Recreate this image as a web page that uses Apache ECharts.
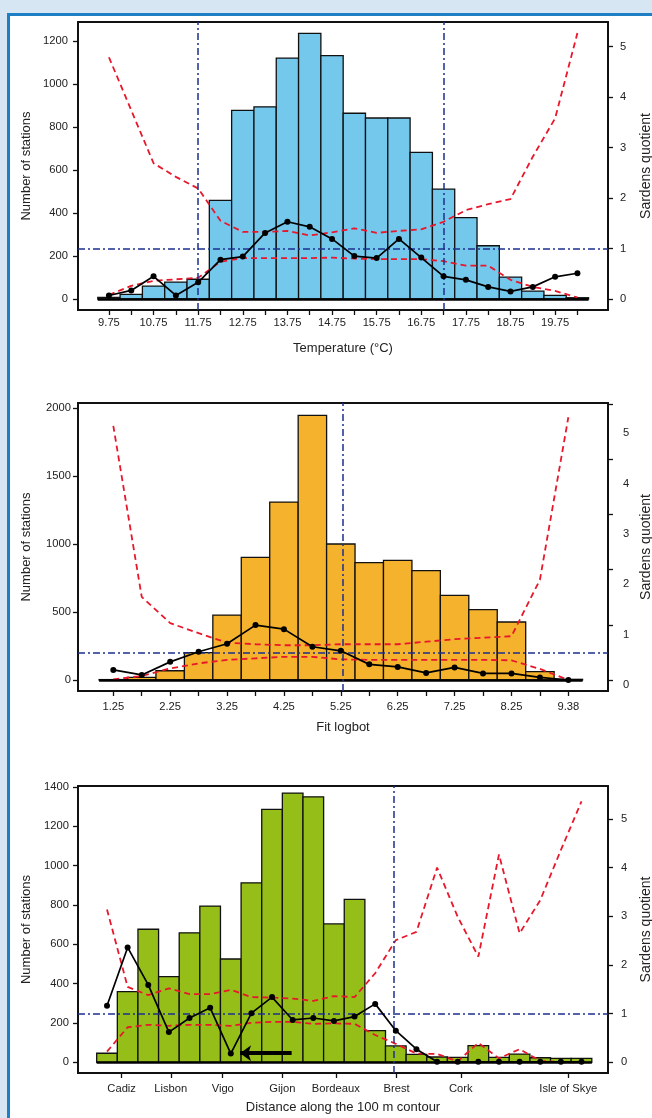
<!DOCTYPE html>
<html><head><meta charset="utf-8">
<script src="https://cdn.jsdelivr.net/npm/echarts@6/dist/echarts.min.js"></script>
<style>
html,body{margin:0;padding:0;width:652px;height:1118px;overflow:hidden;background:#d6e7f3;}
#panel{position:absolute;left:7px;top:13px;width:700px;height:1200px;background:#fff;border-left:3px solid #1f7fc5;border-top:3px solid #1f7fc5;}
#chart{position:absolute;left:0;top:0;width:652px;height:1118px;}
</style></head><body><div id="panel"></div><div id="chart"></div>
<script>
// ---- Panel 1: Temperature ----
const tempCats   = [9.75,10.25,10.75,11.25,11.75,12.25,12.75,13.25,13.75,14.25,14.75,15.25,15.75,16.25,16.75,17.25,17.75,18.25,18.75,19.25,19.75,20.25];
const tempCounts = [8,22,60,79,92,459,878,895,1122,1237,1133,865,843,843,683,512,379,248,102,37,17,6];
const tempSQ     = [0.07,0.17,0.45,0.07,0.33,0.78,0.84,1.31,1.53,1.43,1.19,0.85,0.81,1.19,0.82,0.45,0.38,0.24,0.15,0.24,0.44,0.51];
const tempUpper  = [4.79,3.74,2.69,2.42,2.19,1.55,1.33,1.33,1.35,1.26,1.32,1.40,1.31,1.35,1.38,1.53,1.76,1.88,1.98,2.82,3.58,5.27];
const tempLower  = [0.08,0.26,0.36,0.39,0.42,0.74,0.81,0.81,0.81,0.81,0.82,0.80,0.79,0.79,0.79,0.75,0.66,0.66,0.38,0.24,0.16,0.03];
const tempVLines = [11.75, 17.25];
const tempHLine  = 1;
const tempLeftTicks = [0,200,400,600,800,1000,1200];

// ---- Panel 2: Fit logbot ----
const fitCats   = ['1.25','1.75','2.25','2.75','3.25','3.75','4.25','4.75','5.25','5.75','6.25','6.75','7.25','7.75','8.25','8.75','9.38'];
const fitCounts = [3,20,68,201,478,903,1310,1948,1001,864,881,805,623,518,427,61,5];
const fitSQ     = [0.30,0.20,0.46,0.66,0.82,1.19,1.11,0.76,0.68,0.41,0.36,0.24,0.35,0.23,0.23,0.15,0.10];
const fitUpper  = [5.15,1.75,1.23,1.03,0.84,0.81,0.79,0.79,0.81,0.81,0.81,0.86,0.91,0.94,0.97,2.09,5.32];
const fitLower  = [0.11,0.18,0.33,0.43,0.50,0.53,0.56,0.56,0.51,0.50,0.50,0.50,0.50,0.50,0.49,0.32,0.10];
const fitVLine  = 8.06;   // in category-index units (just right of 5.25)
const fitHLine  = 0.65;
const fitLeftTicks = [0,500,1000,1500,2000];

// ---- Panel 3: Distance along the 100 m contour ----
const coastCounts = [46,359,676,435,658,794,525,912,1285,1368,1349,703,828,161,83,40,27,25,85,25,42,23,20,20];
const coastSQ     = [1.16,2.36,1.59,0.62,0.91,1.12,0.18,1.01,1.34,0.87,0.91,0.85,0.94,1.20,0.65,0.27,0.01,0.01,0.01,0.01,0.01,0.01,0.01,0.01];
const coastUpper  = [3.14,1.55,1.38,1.52,1.40,1.40,1.49,1.34,1.33,1.31,1.26,1.36,1.34,1.83,2.51,2.68,4.00,2.99,2.17,4.27,2.65,3.33,4.36,5.36];
const coastLower  = [0.22,0.72,0.77,0.75,0.77,0.77,0.75,0.81,0.83,0.83,0.79,0.80,0.79,0.56,0.38,0.18,0.17,0.02,0.40,0.08,0.27,0.03,0.0,0.0];
const coastTickLabels = ['Cadiz','Lisbon','Vigo','Gijon','Bordeaux','Brest','Cork','Isle of Skye'];
const coastTickPos    = [0.71,3.09,5.61,8.50,11.09,14.04,17.15,22.36];
const coastVLine = 13.91;
const coastHLine = 1;
const coastLeftTicks = [0,200,400,600,800,1000,1200,1400];
const arrowFrom = [8.95, 46];
const arrowTo   = [6.45, 46];

const rightTicks = [0,1,2,3,4,5];

// ---- styles ----
const FONT = "'Liberation Sans', Arial, sans-serif";
const TXT = '#222';
const RED = '#e8172b';
const BLUE = '#1c2f8f';
const TICKFS = 11.2;

function grid(top, height){
  return {left:78, top:top, width:530, height:height, show:true, borderColor:'#111', borderWidth:2,
          backgroundColor:'transparent', containLabel:false, outerBoundsMode:'none'};
}
function xAxis(gi, min, max, ticks, labels, fmt, margin, name, gap){
  return {type:'value', gridIndex:gi, min:min, max:max, position:'bottom',
    name:name, nameLocation:'middle', nameGap:gap, nameMoveOverlap:false,
    nameTextStyle:{fontFamily:FONT, fontSize:13, color:TXT},
    axisLine:{show:false, onZero:false}, splitLine:{show:false},
    axisTick:{show:true, inside:false, length:5, customValues:ticks, lineStyle:{color:'#111', width:1.3}},
    axisLabel:{show:true, customValues:labels, formatter:fmt, margin:margin, fontFamily:FONT, fontSize:TICKFS, color:TXT}};
}
function yAxis(gi, pos, min, max, ticks, opts){
  opts = opts || {};
  return {type:'value', gridIndex:gi, position:pos, min:min, max:max, offset:0,
    name:opts.name || '', nameLocation:'middle', nameGap:opts.gap || 0, nameRotate:90, nameMoveOverlap:false,
    nameTextStyle:{fontFamily:FONT, fontSize:opts.nameSize || 13, color:TXT},
    axisLine:{show:false, onZero:false}, splitLine:{show:false},
    axisTick:{show:opts.noTick ? false : true, inside:false, length:5, customValues:ticks, lineStyle:{color:'#111', width:1.3}},
    axisLabel:{show:opts.noLabel ? false : true, customValues:ticks, formatter:v=>String(v), margin:opts.margin || 8,
               fontFamily:FONT, fontSize:TICKFS, color:TXT}};
}
function bars(xi, yi, xs, counts, hw, color){
  const data = counts.map((v,i)=>[xs[i], v]);
  return {type:'custom', xAxisIndex:xi, yAxisIndex:yi, data:data, encode:{x:0, y:1}, z:2, silent:true,
    renderItem:function(params, api){
      const x = api.value(0), v = api.value(1);
      const a = api.coord([x - hw, 0]);
      const b = api.coord([x + hw, v]);
      return {type:'rect', shape:{x:a[0], y:b[1], width:b[0]-a[0], height:a[1]-b[1]},
              style:{fill:color, stroke:'#111', lineWidth:1.3}};
    },
    // thick baseline under the histogram, spanning the bars
    markLine:{symbol:'none', silent:true, label:{show:false}, animation:false, emphasis:{disabled:true},
      lineStyle:{color:'#000', width:2.6, type:'solid'},
      data:[[{coord:[xs[0]-hw, 0]},{coord:[xs[xs.length-1]+hw, 0]}]]}};
}
function redLine(xi, yi, data){
  return {type:'line', xAxisIndex:xi, yAxisIndex:yi, data:data, showSymbol:false, z:4, silent:true,
    lineStyle:{color:RED, width:1.8, type:[6,4]}};
}
function sqLine(xi, yi, data, vlines, hline){
  const ml = vlines.map(v=>({xAxis:v}));
  ml.push({yAxis:hline});
  return {type:'line', xAxisIndex:xi, yAxisIndex:yi, data:data, symbol:'circle', symbolSize:6, z:6, silent:true,
    itemStyle:{color:'#000'}, lineStyle:{color:'#000', width:1.7},
    markLine:{symbol:'none', silent:true, label:{show:false}, animation:false,
      lineStyle:{color:BLUE, width:1.5, type:[7,3,2,3]}, emphasis:{disabled:true}, data:ml}};
}

const pair = (xs, ys) => ys.map((y,i)=>[xs[i], y]);
const fitIdx = fitCats.map((c,i)=>i);
const coastIdx = coastCounts.map((c,i)=>i);

const option = {
  animation:false,
  backgroundColor:'transparent',
  grid:[grid(22,288), grid(403,288), grid(786,287)],
  xAxis:[
    xAxis(0, 9.0565, 20.9355, tempCats, tempCats.filter((t,i)=>i%2===0), v=>v.toFixed(2), 7.5, 'Temperature (°C)', 31.5),
    xAxis(1, -1.241, 17.394, fitIdx, fitIdx.filter(i=>i%2===0), v=>fitCats[Math.round(v)], 10, 'Fit logbot', 29.5),
    xAxis(2, -1.406, 24.285, coastTickPos, coastTickPos, v=>{const i=coastTickPos.indexOf(v); return i>=0?coastTickLabels[i]:'';}, 10, 'Distance along the 100 m contour', 28)
  ],
  yAxis:[
    yAxis(0,'left', -51.2, 1290, tempLeftTicks, {name:'Number of stations', gap:45, margin:10}),
    yAxis(0,'right', -0.218, 5.489, rightTicks, {name:'Sardens quotient', gap:31, margin:12, nameSize:14}),
    yAxis(1,'left', -81, 2039, fitLeftTicks, {name:'Number of stations', gap:45, margin:7}),
    yAxis(1,'right', -0.119, 5.603, rightTicks, {name:'Sardens quotient', gap:31, margin:15, nameSize:14, noTick:true}),
    yAxis(1,'right', -0.199, 5.018, rightTicks, {noLabel:true}),
    yAxis(2,'left', -54.4, 1404, coastLeftTicks, {name:'Number of stations', gap:45, margin:9}),
    yAxis(2,'right', -0.22, 5.677, rightTicks, {name:'Sardens quotient', gap:31, margin:13, nameSize:14})
  ],
  series:[
    bars(0, 0, tempCats, tempCounts, 0.25, '#74c8ec'),
    redLine(0, 1, pair(tempCats, tempUpper)),
    redLine(0, 1, pair(tempCats, tempLower)),
    sqLine(0, 1, pair(tempCats, tempSQ), tempVLines, tempHLine),

    bars(1, 2, fitIdx, fitCounts, 0.5, '#f5b22d'),
    redLine(1, 3, pair(fitIdx, fitUpper)),
    redLine(1, 3, pair(fitIdx, fitLower)),
    sqLine(1, 3, pair(fitIdx, fitSQ), [fitVLine], fitHLine),

    bars(2, 5, coastIdx, coastCounts, 0.5, '#96be19'),
    redLine(2, 6, pair(coastIdx, coastUpper)),
    redLine(2, 6, pair(coastIdx, coastLower)),
    sqLine(2, 6, pair(coastIdx, coastSQ), [coastVLine], coastHLine),
    {type:'line', xAxisIndex:2, yAxisIndex:5, data:[], z:7, silent:true,
     markLine:{symbol:['none','arrow'], symbolSize:[12,11], silent:true, label:{show:false}, animation:false,
       lineStyle:{color:'#000', width:4, type:'solid'}, emphasis:{disabled:true},
       data:[[{coord:arrowFrom},{coord:arrowTo}]]}}
  ]
};
const chart = echarts.init(document.getElementById('chart'), null, {renderer:'canvas'});
chart.setOption(option);
</script>
</body></html>
